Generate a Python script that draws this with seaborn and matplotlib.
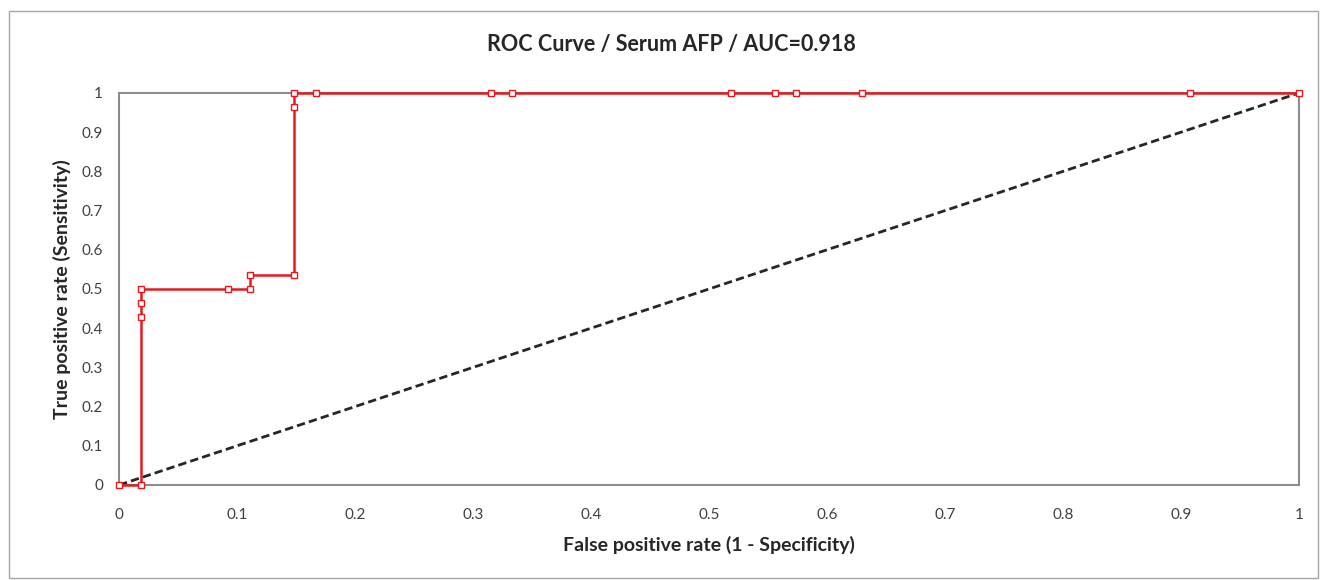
import pandas as pd
import matplotlib.pyplot as plt
import seaborn as sns
from matplotlib.patches import Rectangle

# ROC points (already includes the step corners)
fpr = [0.0, 0.0185, 0.0185, 0.0185, 0.0185, 0.0926, 0.1111, 0.1111, 0.1481, 0.1481,
       0.1481, 0.1667, 0.3148, 0.3333, 0.5185, 0.5556, 0.5741, 0.6296, 0.9074, 1.0]
tpr = [0.0, 0.0, 0.4286, 0.4643, 0.5, 0.5, 0.5, 0.5357, 0.5357, 0.9643,
       1.0, 1.0, 1.0, 1.0, 1.0, 1.0, 1.0, 1.0, 1.0, 1.0]
diag = [0.0, 1.0]
ticks = [0, 0.1, 0.2, 0.3, 0.4, 0.5, 0.6, 0.7, 0.8, 0.9, 1]
tick_labels = ["0", "0.1", "0.2", "0.3", "0.4", "0.5", "0.6", "0.7", "0.8", "0.9", "1"]

df = pd.DataFrame({"fpr": fpr, "tpr": tpr})
df_diag = pd.DataFrame({"x": diag, "y": diag})

sns.set_style("white")
plt.rcParams['font.family'] = ['Lato', 'DejaVu Sans']

fig = plt.figure(figsize=(13.2, 5.8), dpi=100)
ax = fig.add_axes([0.0902, 0.1638, 0.8939, 0.6759])

sns.lineplot(data=df_diag, x="x", y="y", ax=ax, color="#262626", lw=2,
             linestyle=(0, (3, 1.5)), estimator=None, zorder=2)
sns.lineplot(data=df, x="fpr", y="tpr", ax=ax, sort=False, estimator=None,
             color="#e8191c", lw=1.8, marker="s", markersize=5,
             markerfacecolor="white", markeredgecolor="#e8191c",
             markeredgewidth=1, zorder=3, clip_on=False)

ax.set_xlim(0, 1)
ax.set_ylim(0, 1)
ax.set_xticks(ticks)
ax.set_xticklabels(tick_labels)
ax.set_yticks(ticks)
ax.set_yticklabels(tick_labels)
ax.tick_params(direction="inout", length=9, width=0.8, color="#8c8c8c",
               labelsize=11, labelcolor="#404040", pad=6)
ax.tick_params(axis="x", pad=12)
ax.tick_params(axis="y", length=11)
for sp in ax.spines.values():
    sp.set_color("#8c8c8c")
    sp.set_linewidth(1.5)
    sp.set_zorder(1)

fig.text(671 / 1320, 1 - 45 / 580, "ROC Curve / Serum AFP / AUC=0.918", fontsize=15.5,
         fontweight="bold", color="#262626", ha="center", va="center")
ax.set_xlabel("False positive rate (1 - Specificity)", fontsize=14, fontweight="bold",
              color="#262626", labelpad=10)
ax.set_ylabel("True positive rate (Sensitivity)", fontsize=14, fontweight="bold",
              color="#262626", labelpad=8)

fig.add_artist(Rectangle((9 / 1320, 2 / 580), 1309 / 1320, 567 / 580,
                         transform=fig.transFigure, fill=False,
                         edgecolor="#a6a6a6", lw=1))

fig.savefig("out.png", dpi=100)
